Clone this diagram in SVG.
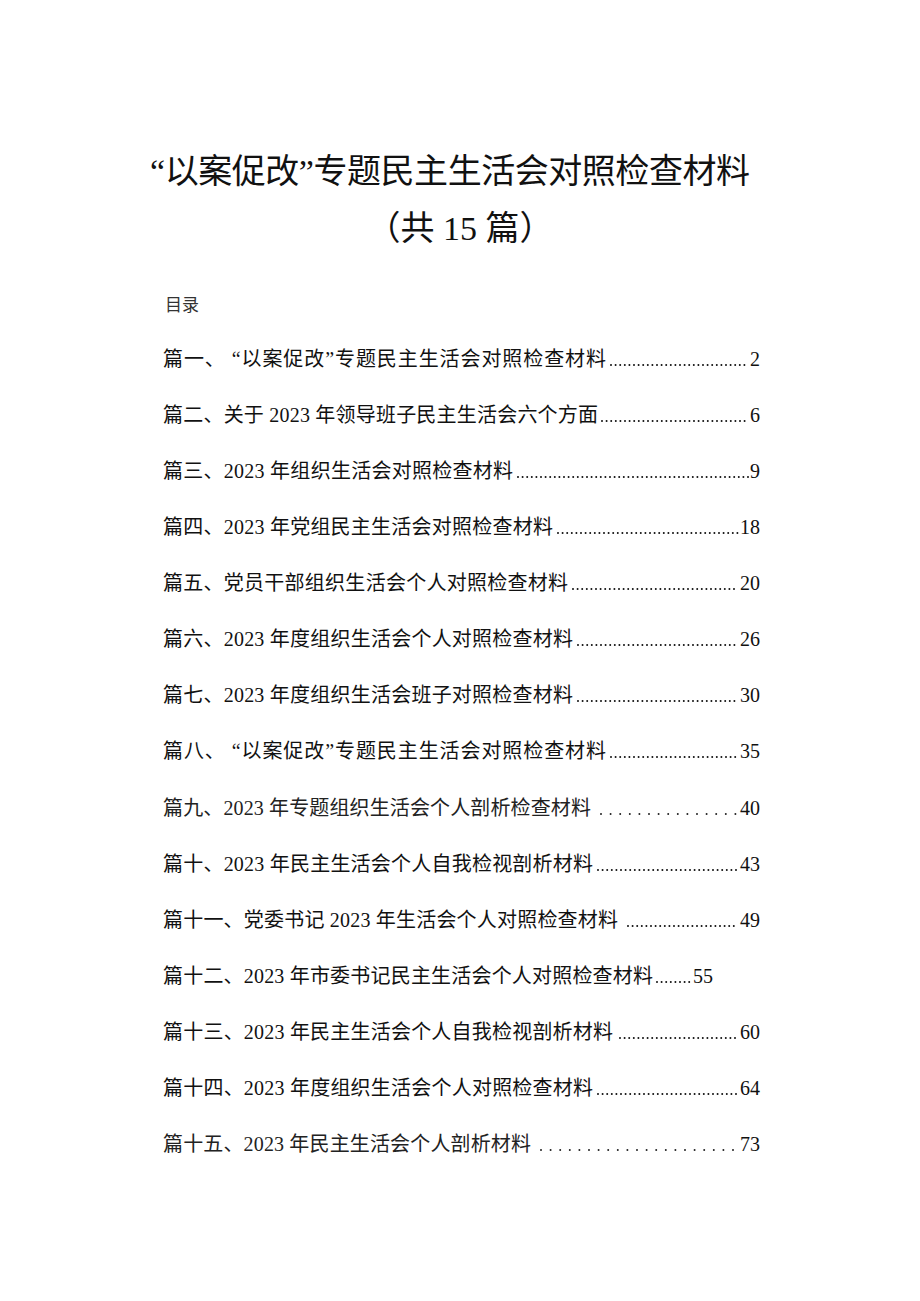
<svg xmlns="http://www.w3.org/2000/svg" width="920" height="1301" viewBox="0 0 920 1301">
<style>
text{font-family:"Liberation Serif","Noto Sans CJK SC",sans-serif;fill:#111}
.t{font-size:34px}
.r{font-size:20px}
.l{font-weight:400;fill:#222}
.n{text-anchor:end}
.d{stroke:#111;stroke-width:2;stroke-linecap:round;stroke-dasharray:0 4.6}
.w{stroke-dasharray:0 9.6;stroke:#222}
</style>
<rect width="920" height="1301" fill="#fff"/>
<g id="title">
<text class="t" x="150" y="183" textLength="600">“以案促改”专题民主生活会对照检查材料</text>
<text class="t" x="460" y="240" text-anchor="middle">（共 15 篇）</text>
<text x="165" y="311" style="font-size:17px;fill:#333">目录</text>
</g>
<g id="toc">
<text class="r" x="163" y="366" textLength="443">篇一、 “以案促改”专题民主生活会对照检查材料</text><line class="d" x1="611" y1="365" x2="748" y2="365"/><text class="r n" x="760" y="366">2</text>
<text class="r" x="163" y="422" textLength="435">篇二、关于 2023 年领导班子民主生活会六个方面</text><line class="d" x1="602" y1="421" x2="748" y2="421"/><text class="r n" x="760" y="422">6</text>
<text class="r" x="163" y="478" textLength="350">篇三、2023 年组织生活会对照检查材料</text><line class="d" x1="518" y1="477" x2="748" y2="477"/><text class="r n" x="760" y="478">9</text>
<text class="r" x="163" y="534" textLength="390">篇四、2023 年党组民主生活会对照检查材料</text><line class="d" x1="558" y1="533" x2="738" y2="533"/><text class="r n" x="760" y="534">18</text>
<text class="r" x="163" y="590" textLength="405">篇五、党员干部组织生活会个人对照检查材料</text><line class="d" x1="573" y1="589" x2="738" y2="589"/><text class="r n" x="760" y="590">20</text>
<text class="r" x="163" y="646" textLength="410">篇六、2023 年度组织生活会个人对照检查材料</text><line class="d" x1="578" y1="645" x2="738" y2="645"/><text class="r n" x="760" y="646">26</text>
<text class="r" x="163" y="702" textLength="410">篇七、2023 年度组织生活会班子对照检查材料</text><line class="d" x1="578" y1="701" x2="738" y2="701"/><text class="r n" x="760" y="702">30</text>
<text class="r" x="163" y="758" textLength="443">篇八、 “以案促改”专题民主生活会对照检查材料</text><line class="d" x1="611" y1="757" x2="738" y2="757"/><text class="r n" x="760" y="758">35</text>
<text class="r l" x="163" y="815" textLength="428">篇九、2023 年专题组织生活会个人剖析检查材料</text><line class="d w" x1="601" y1="814" x2="736" y2="814"/><text class="r n" x="760" y="815">40</text>
<text class="r" x="163" y="871" textLength="430">篇十、2023 年民主生活会个人自我检视剖析材料</text><line class="d" x1="598" y1="870" x2="738" y2="870"/><text class="r n" x="760" y="871">43</text>
<text class="r" x="163" y="927" textLength="455">篇十一、党委书记 2023 年生活会个人对照检查材料</text><line class="d" x1="628" y1="926" x2="738" y2="926"/><text class="r n" x="760" y="927">49</text>
<text class="r" x="163" y="983" textLength="490">篇十二、2023 年市委书记民主生活会个人对照检查材料</text><line class="d" x1="657" y1="982" x2="690" y2="982"/><text class="r n" x="713" y="983">55</text>
<text class="r" x="163" y="1039" textLength="450">篇十三、2023 年民主生活会个人自我检视剖析材料</text><line class="d" x1="620" y1="1038" x2="738" y2="1038"/><text class="r n" x="760" y="1039">60</text>
<text class="r" x="163" y="1095" textLength="430">篇十四、2023 年度组织生活会个人对照检查材料</text><line class="d" x1="598" y1="1094" x2="738" y2="1094"/><text class="r n" x="760" y="1095">64</text>
<text class="r l" x="163" y="1151" textLength="368">篇十五、2023 年民主生活会个人剖析材料</text><line class="d w" x1="541" y1="1150" x2="736" y2="1150"/><text class="r n" x="760" y="1151">73</text>
</g>
</svg>
